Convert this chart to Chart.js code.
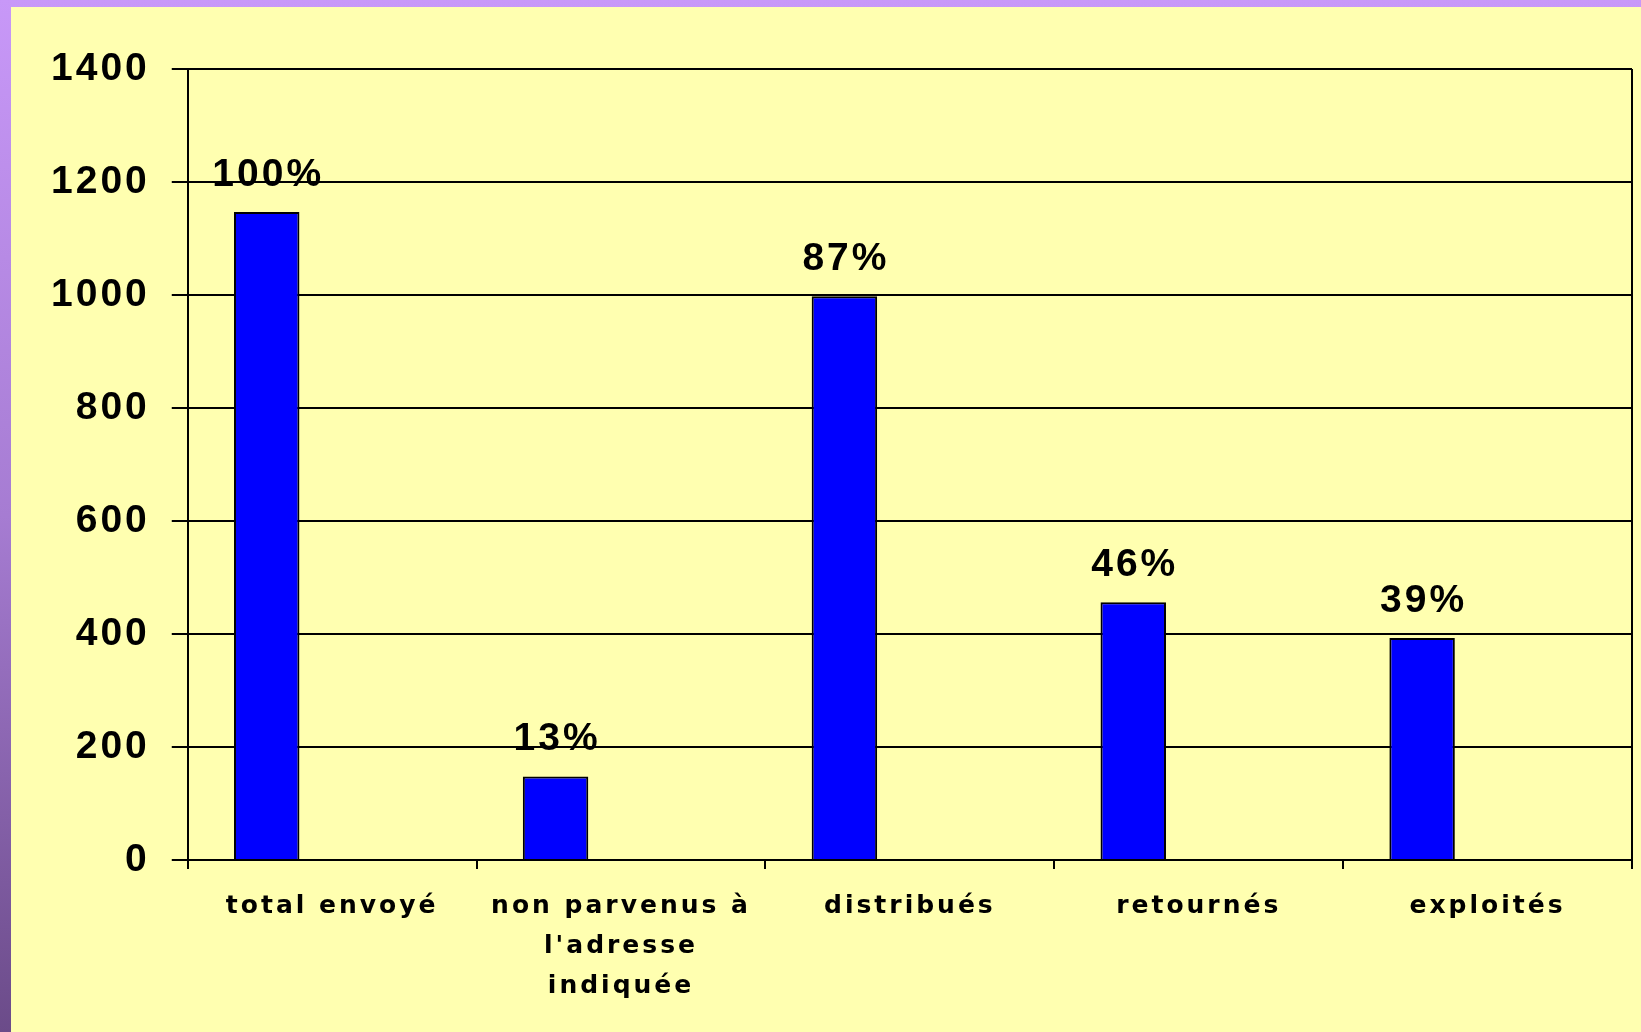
<!DOCTYPE html>
<html>
<head>
<meta charset="utf-8">
<title>Envois</title>
<script src="https://cdn.jsdelivr.net/npm/chart.js@4/dist/chart.umd.min.js"></script>
<style>
  html, body { margin: 0; padding: 0; }
  body {
    width: 1641px;
    height: 1032px;
    overflow: hidden;
    position: relative;
    background: linear-gradient(to bottom, #c898f8 0%, #a67cd2 50%, #6b4b89 100%);
  }
  #panel {
    position: absolute;
    left: 11px;
    top: 7px;
    width: 1630px;
    height: 1025px;
    background: #ffffb0;
  }
  canvas { display: block; }
</style>
</head>
<body>
<div id="panel"><canvas id="chartMail" width="1630" height="1025"></canvas></div>
<script>
const categories = [
    'total envoyé',
    ['non parvenus à', "l'adresse", 'indiquée'],
    'distribués',
    'retournés',
    'exploités'
];
const counts = [1147, 148, 998, 456, 393];
const shares = ['100%', '13%', '87%', '46%', '39%'];

const black = '#000000';
const blue = '#0000ff';

// wide bitmap-like lettering for every text on the canvas
const spacing = {
    id: 'spacing',
    beforeUpdate(chart) { chart.ctx.letterSpacing = '3px'; },
    beforeDraw(chart) { chart.ctx.letterSpacing = '3px'; }
};

// percentage written above each bar
const shareLabels = {
    id: 'shareLabels',
    afterDatasetsDraw(chart) {
        const ctx = chart.ctx;
        const bars = chart.getDatasetMeta(0).data;
        ctx.save();
        ctx.font = 'bold 39px "Liberation Sans", Arial, sans-serif';
        ctx.fillStyle = black;
        ctx.textAlign = 'center';
        ctx.textBaseline = 'alphabetic';
        bars.forEach((bar, i) => {
            ctx.fillText(shares[i], bar.x + 1.5, bar.y - 26);
        });
        ctx.restore();
    }
};

const ctx = document.getElementById('chartMail').getContext('2d');
const chartMail = new Chart(ctx, {
    type: 'bar',
    data: {
        labels: categories,
        datasets: [{
            label: 'Questionnaires',
            data: counts,
            backgroundColor: blue,
            borderColor: black,
            borderWidth: 2,
            categoryPercentage: 0.68,
            barPercentage: 1
        }, {
            // empty series kept so the bar sits left in its category
            label: '',
            data: []
        }, {
            label: '',
            data: []
        }]
    },
    options: {
        responsive: false,
        animation: false,
        layout: {
            padding: { left: 18, top: 62, right: 9, bottom: 9 }
        },
        plugins: {
            legend: { display: false },
            tooltip: { enabled: false }
        },
        scales: {
            x: {
                grid: {
                    offset: true,
                    color: c => c.type === 'scale' ? black : 'rgba(0,0,0,0)',
                    tickColor: black,
                    tickLength: 9,
                    lineWidth: 2
                },
                border: { color: black, width: 2 },
                ticks: {
                    color: black,
                    padding: 17,
                    maxRotation: 0,
                    autoSkip: false,
                    font: { family: '"DejaVu Sans"', weight: 'bold', size: 25, lineHeight: 1.6 }
                }
            },
            y: {
                min: 0,
                max: 1400,
                grid: { color: black, lineWidth: 2, tickLength: 16 },
                border: { color: black, width: 2 },
                ticks: {
                    stepSize: 200,
                    color: black,
                    padding: 22,
                    callback: value => String(value),
                    font: { family: '"Liberation Sans"', weight: 'bold', size: 39 }
                }
            }
        }
    },
    plugins: [spacing, shareLabels]
});
</script>
</body>
</html>
